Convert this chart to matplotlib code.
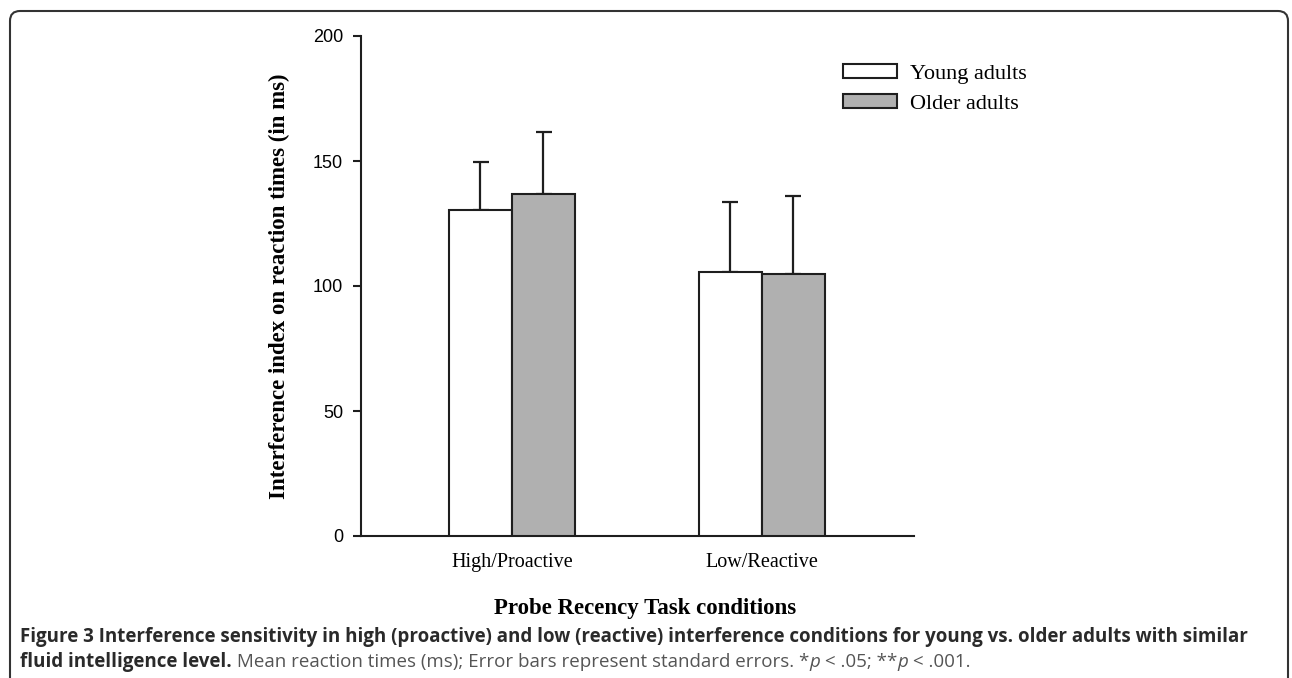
import matplotlib
matplotlib.use('Agg')
import matplotlib.pyplot as plt
from matplotlib.patches import Patch, FancyBboxPatch
from matplotlib.transforms import IdentityTransform
import numpy as np

#Data
conditions = ['High/Proactive', 'Low/Reactive']
young_mean = [130.4, 105.7]
young_se = [19.2, 27.9]
older_mean = [136.8, 104.7]
older_se = [24.8, 31.3]
series_names = ['Young adults', 'Older adults']
yticks = [0, 50, 100, 150, 200]

#Text
ylabel_text = 'Interference index on reaction times (in ms)'
xlabel_text = 'Probe Recency Task conditions'
caption_line1 = ('Figure 3 Interference sensitivity in high (proactive) and low (reactive) '
                 'interference conditions for young vs. older adults with similar')
caption_line2 = [('fluid intelligence level.', 'bold', 'normal'),
                 (' Mean reaction times (ms); Error bars represent standard errors. *', 'normal', 'normal'),
                 ('p', 'normal', 'italic'),
                 (' < .05; **', 'normal', 'normal'),
                 ('p', 'normal', 'italic'),
                 (' < .001.', 'normal', 'normal')]

W, H = 1292, 678
fig = plt.figure(figsize=(W / 100, H / 100), dpi=100)

#axes box in pixels: y axis at x=361, right end 914, y=0 at 536, y=200 at 36
ax = fig.add_axes([361 / W, 1 - 536 / H, (914 - 361) / W, (536 - 36) / H])

x = np.arange(len(conditions))
w = 0.252
edge = '#1e1e1e'
ax.bar(x - w / 2, young_mean, w, color='white', edgecolor=edge, linewidth=1.5, zorder=3)
ax.bar(x + w / 2, older_mean, w, color='#b0b0b0', edgecolor=edge, linewidth=1.5, zorder=3)
ax.errorbar(x - w / 2, young_mean, yerr=[np.zeros(len(x)), young_se], fmt='none',
            ecolor=edge, elinewidth=1.6, capsize=5.5, capthick=1.6, zorder=2)
ax.errorbar(x + w / 2, older_mean, yerr=[np.zeros(len(x)), older_se], fmt='none',
            ecolor=edge, elinewidth=1.6, capsize=5.5, capthick=1.6, zorder=2)

ax.set_xlim(-0.604, 1.608)
ax.set_ylim(0, 200)
ax.set_yticks(yticks)
ax.set_yticklabels([str(t) for t in yticks], fontsize=13, family='Liberation Sans')
ax.set_xticks(x)
ax.set_xticklabels(conditions, fontsize=14.5, family='Liberation Serif')
ax.tick_params(axis='x', length=0, pad=12)
ax.tick_params(axis='y', length=5.8, width=1.5, pad=7, color=edge)

for s in ['top', 'right']:
    ax.spines[s].set_visible(False)
for s in ['left', 'bottom']:
    ax.spines[s].set_linewidth(1.5)
    ax.spines[s].set_color(edge)

ax.set_ylabel(ylabel_text, fontsize=16.5, family='Liberation Serif', fontweight='bold')
ax.yaxis.set_label_coords(-0.148, 0.5)
ax.yaxis.label.set_va('center')
ax.set_xlabel(xlabel_text, fontsize=16.5, family='Liberation Serif', fontweight='bold')
ax.xaxis.set_label_coords(0.513, -0.145)
ax.xaxis.label.set_va('center')

handles = [Patch(facecolor='white', edgecolor=edge, linewidth=1.5),
           Patch(facecolor='#b0b0b0', edgecolor=edge, linewidth=1.5)]
fig.legend(handles, series_names, loc='upper left', bbox_to_anchor=(843 / W, 1 - 64 / H),
           frameon=False, prop={'family': 'Liberation Serif', 'size': 16},
           handlelength=2.43, handleheight=0.6, handletextpad=0.6, labelspacing=0.45,
           borderpad=0, borderaxespad=0)

#rounded frame round the whole panel
frame = FancyBboxPatch((10, -30), 1278, H - 11 + 30, boxstyle='round,pad=0,rounding_size=10',
                       transform=IdentityTransform(), facecolor='none', edgecolor='#333333',
                       linewidth=1.5)
fig.add_artist(frame)

#caption, sized so that line 1 runs from x=20 to x=1248
cap_font = 'Open Sans'
t1 = fig.text(20 / W, 1 - 642 / H, caption_line1, fontsize=12, family=cap_font,
              fontweight='bold', color='#2a2a2a', va='baseline')
r = fig.canvas.get_renderer()
size = 12 * (1228 / t1.get_window_extent(r).width)
t1.set_fontsize(size)

prev = None
for txt, weight, style in caption_line2:
    color = '#2a2a2a' if weight == 'bold' else '#555555'
    if prev is None:
        prev = fig.text(20 / W, 1 - 667 / H, txt, fontsize=size, family=cap_font,
                        fontweight=weight, style=style, color=color, va='baseline')
    else:
        prev = fig.text(0, 0, txt, fontsize=size, family=cap_font, fontweight=weight,
                        style=style, color=color, va='baseline', ha='left')
        prev_bb = prev_prev.get_window_extent(r)
        prev.set_position((prev_bb.x1 / W, 1 - 667 / H))
    prev_prev = prev
    fig.canvas.draw()

fig.savefig('out.png', dpi=100)
